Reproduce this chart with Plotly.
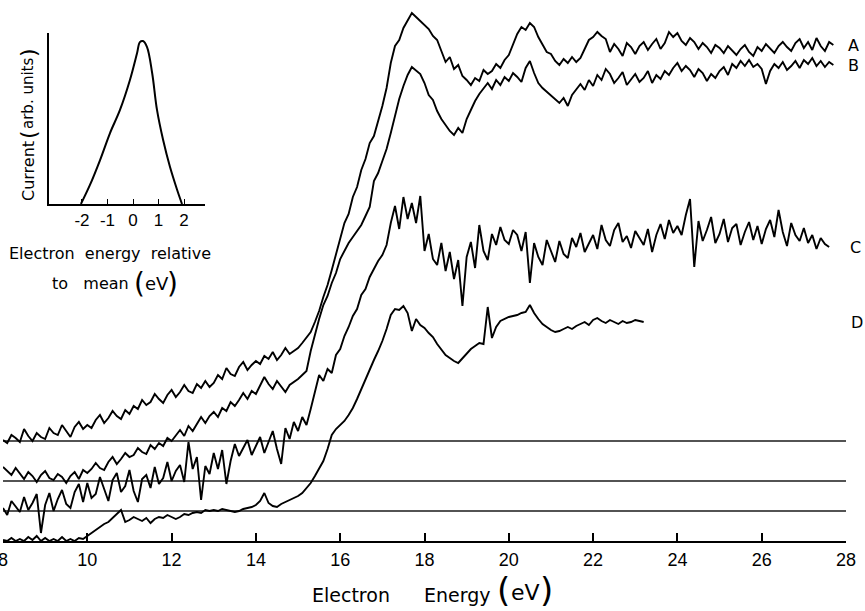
import plotly.graph_objects as go

# ---------------- data ----------------
energy_eV = [
    8.0, 8.1, 8.2, 8.3, 8.4, 8.5, 8.6, 8.7, 8.8, 8.9,
    9.0, 9.1, 9.2, 9.3, 9.4, 9.5, 9.6, 9.7, 9.8, 9.9,
    10.0, 10.1, 10.2, 10.3, 10.4, 10.5, 10.6, 10.7, 10.8, 10.9,
    11.0, 11.1, 11.2, 11.3, 11.4, 11.5, 11.6, 11.7, 11.8, 11.9,
    12.0, 12.1, 12.2, 12.3, 12.4, 12.5, 12.6, 12.7, 12.8, 12.9,
    13.0, 13.1, 13.2, 13.3, 13.4, 13.5, 13.6, 13.7, 13.8, 13.9,
    14.0, 14.1, 14.2, 14.3, 14.4, 14.5, 14.6, 14.7, 14.8, 14.9,
    15.0, 15.1, 15.2, 15.3, 15.4, 15.5, 15.6, 15.7, 15.8, 15.9,
    16.0, 16.1, 16.2, 16.3, 16.4, 16.5, 16.6, 16.7, 16.8, 16.9,
    17.0, 17.1, 17.2, 17.3, 17.4, 17.5, 17.6, 17.7, 17.8, 17.9,
    18.0, 18.1, 18.2, 18.3, 18.4, 18.5, 18.6, 18.7, 18.8, 18.9,
    19.0, 19.1, 19.2, 19.3, 19.4, 19.5, 19.6, 19.7, 19.8, 19.9,
    20.0, 20.1, 20.2, 20.3, 20.4, 20.5, 20.6, 20.7, 20.8, 20.9,
    21.0, 21.1, 21.2, 21.3, 21.4, 21.5, 21.6, 21.7, 21.8, 21.9,
    22.0, 22.1, 22.2, 22.3, 22.4, 22.5, 22.6, 22.7, 22.8, 22.9,
    23.0, 23.1, 23.2, 23.3, 23.4, 23.5, 23.6, 23.7, 23.8, 23.9,
    24.0, 24.1, 24.2, 24.3, 24.4, 24.5, 24.6, 24.7, 24.8, 24.9,
    25.0, 25.1, 25.2, 25.3, 25.4, 25.5, 25.6, 25.7, 25.8, 25.9,
    26.0, 26.1, 26.2, 26.3, 26.4, 26.5, 26.6, 26.7, 26.8, 26.9,
    27.0, 27.1, 27.2, 27.3, 27.4, 27.5, 27.6, 27.7,
]

curve_A = [
    101, 98, 106, 103, 99, 112, 105, 100, 108, 104,
    102, 113, 108, 106, 116, 110, 104, 114, 119, 112,
    116, 113, 121, 126, 118, 123, 130, 125, 122, 131,
    127, 135, 132, 141, 136, 139, 147, 142, 138, 146,
    151, 144, 149, 156, 150, 148, 157, 153, 160, 154,
    158, 166, 162, 173, 167, 165, 174, 179, 171, 176,
    180, 177, 185, 182, 189, 181, 186, 193, 187, 190,
    193, 198, 203, 209, 219, 230, 244, 256, 271, 286,
    302, 318, 327, 344, 354, 371, 382, 398, 405, 420,
    435, 453, 478, 495, 501, 513, 521, 528, 524, 520,
    517, 512, 505, 501, 490, 479, 484, 472, 476, 465,
    461, 456, 463, 460, 471, 467, 470, 477, 473, 481,
    486, 497, 507, 514, 511, 518, 514, 504, 497, 489,
    487, 480, 476, 482, 478, 484, 479, 483, 492, 501,
    504, 509, 505, 502, 489, 497, 492, 485, 498, 494,
    487, 495, 499, 491, 497, 502, 492, 498, 509, 504,
    508, 500, 496, 503, 499, 492, 498, 494, 488, 496,
    493, 488, 495, 490, 486, 492, 496, 489, 485, 494,
    490, 497, 493, 488, 495, 499, 494, 490, 498, 502,
    493, 499, 491, 503, 495, 490, 499, 496,
]

curve_B = [
    74, 70, 66, 73, 67, 62, 69, 65, 59, 66,
    70, 63, 61, 67, 64, 58, 65, 69, 62, 71,
    68, 72, 78, 73, 71, 79, 84, 77, 82, 88,
    84, 86, 93, 89, 87, 96, 92, 98, 95, 103,
    100, 106, 111, 105, 115, 110, 117, 124, 118, 125,
    129, 124, 133, 130, 139, 135, 141, 148, 142, 150,
    147, 155, 164, 157, 152, 160, 154, 149, 156, 159,
    162, 166, 170, 190, 207, 222, 236, 245, 258, 268,
    282, 290, 298, 304, 310, 316, 325, 334, 360, 368,
    380, 392, 408, 425, 442, 455, 466, 474, 470, 467,
    458, 446, 441, 430, 422, 416, 410, 406, 413, 408,
    422, 431, 440, 447, 452, 458, 452, 461, 456, 464,
    460, 468, 464, 459, 473, 480, 468, 458, 453, 449,
    445, 441, 438, 443, 435, 446, 452, 457, 451, 461,
    455, 466, 461, 472, 467, 458, 463, 469, 456, 462,
    467, 459, 463, 470, 458, 466, 462, 470, 466, 473,
    478, 470, 475, 471, 464, 472, 468, 460, 467, 463,
    470, 474, 466, 477, 473, 480, 475, 481, 474, 477,
    472, 457, 470, 477, 473, 479, 471, 475, 480, 473,
    481, 477, 483, 475, 480, 474, 479, 476,
]

curve_C = [
    33, 26, 40, 35, 29, 44, 31, 38, 47, 8,
    36, 48, 30, 42, 51, 37, 33, 49, 57, 39,
    58, 43, 47, 64, 52, 40, 61, 68, 49, 55,
    71, 50, 39, 62, 66, 53, 74, 57, 63, 79,
    60, 70, 76, 59, 99, 72, 84, 41, 75, 67,
    88, 72, 91, 57, 80, 97, 85, 93, 101, 86,
    95, 104, 88, 99, 110, 92, 77, 113, 102, 119,
    110, 124, 116, 132, 150, 166, 160, 172, 168, 186,
    192, 205, 214, 225, 232, 246, 252, 264, 272, 280,
    286, 296, 318, 335, 312, 344, 322, 338, 318, 345,
    290, 307, 282, 276, 298, 270, 289, 262, 281, 235,
    284, 299, 273, 316, 290, 281, 307, 296, 314, 301,
    297, 311, 306, 290, 309, 258, 298, 284, 276, 301,
    290, 279, 300, 287, 283, 303, 294, 308, 289, 297,
    306, 292, 316, 301, 295, 311, 318, 299, 305, 293,
    310, 303, 296, 312, 289, 306, 317, 302, 321, 308,
    315, 306, 326, 342, 274, 320, 300, 311, 324, 298,
    307, 322, 299, 313, 317, 296, 309, 319, 301, 315,
    297, 312, 321, 304, 331, 309, 295, 318, 306, 300,
    313, 298, 306, 292, 303, 297, 294,
]

curve_D = [
    1, 0, 3, 0, 2, 0, 4, 1, 5, 0,
    3, 0, 2, 0, 4, 0, 2, 0, 3, 2,
    5, 8, 11, 14, 17, 19, 23, 27, 31, 19,
    21, 24, 22, 20, 23, 18, 22, 24, 23, 26,
    24, 22, 24, 27, 26, 28, 29, 28, 31, 30,
    31, 30, 32, 31, 30, 29, 30, 32, 33, 34,
    36, 40, 48, 38, 35, 34, 37, 39, 41, 43,
    45, 48, 53, 58, 65, 72, 80, 92, 106, 112,
    116, 120, 126, 133, 142, 152, 162, 171, 181, 190,
    200, 212, 226, 232, 231, 235, 228, 210, 222, 216,
    213, 208, 204, 197, 191, 186, 183, 180, 178, 183,
    188, 192, 195, 198, 197, 234, 203, 214, 220, 222,
    224, 225, 226, 228, 229, 236, 228, 222, 217, 214,
    211, 209, 210, 212, 214, 212, 215, 217, 219, 216,
    221, 223, 220, 218, 221, 219, 217, 220, 218, 219,
    221, 220, 219,
]

curve_names = ["A", "B", "C", "D"]
baseline_levels = [100, 60, 30]          # zero lines of curves A, B, C (D uses the axis)
x_tick_values = [8, 10, 12, 14, 16, 18, 20, 22, 24, 26, 28]

inset_energy = [-2.04, -1.69, -1.29, -0.9, -0.51, -0.12, 0.16, 0.27, 0.39,
                0.55, 0.75, 0.94, 1.18, 1.45, 1.73, 1.92]
inset_current = [0, 0.11, 0.257, 0.415, 0.55, 0.725, 0.883, 0.947, 0.953,
                 0.918, 0.766, 0.55, 0.374, 0.216, 0.082, 0]
inset_tick_values = [-2, -1, 0, 1, 2]
inset_tick_labels = ["-2", "-1", "0", "1", "2"]

# ---------------- figure ----------------
FONT = "Liberation Sans"
LETTER = "DejaVu Sans"
W, H = 865, 611
L, R, T, B = 3, 19, 0, 70
PW, PH = W - L - R, H - T - B


def px(xp):
    return (xp - L) / PW


def py(yp):
    return (H - B - yp) / PH


fig = go.Figure()

for lvl in baseline_levels:
    fig.add_trace(go.Scatter(x=[x_tick_values[0], x_tick_values[-1]], y=[lvl, lvl],
                             mode="lines", line=dict(color="#1a1a1a", width=1.3),
                             hoverinfo="skip", showlegend=False))

label_x = [853, 853, 855, 857]
for name, vals, lx in zip(curve_names, [curve_A, curve_B, curve_C, curve_D], label_x):
    fig.add_trace(go.Scatter(x=energy_eV[:len(vals)], y=vals, mode="lines", name=name,
                             line=dict(color="black", width=1.9), showlegend=False))
    fig.add_annotation(x=px(lx), y=vals[-1], xref="paper", yref="y", text=name,
                       showarrow=False, xanchor="center", yanchor="middle",
                       font=dict(family=LETTER, size=16, color="black"))

fig.add_trace(go.Scatter(x=inset_energy, y=inset_current, xaxis="x2", yaxis="y2",
                         mode="lines", line=dict(color="black", width=2, shape="spline"),
                         showlegend=False))


def note(x, y, text, size, angle=0):
    fig.add_annotation(x=px(x), y=py(y), xref="paper", yref="paper", text=text,
                       showarrow=False, xanchor="center", yanchor="middle",
                       textangle=angle, font=dict(family=LETTER, size=size, color="black"))


# main axis title
note(351, 595, "Electron", 19)
note(457, 595, "Energy", 19)
note(503, 590, "(", 34)
note(525, 592, "eV", 22)
note(546, 590, ")", 34)

# inset y label (rotated)
note(28, 171, "Current", 16, -90)
note(28, 135, "(", 22, -90)
note(28, 94, "arb. units", 15, -90)
note(28, 53, ")", 22, -90)

# inset x label
note(110, 254, "Electron&nbsp;&nbsp;energy&nbsp;&nbsp;relative", 16)
note(90, 283, "to&nbsp;&nbsp;&nbsp;mean", 16)
note(139, 283, "(", 28)
note(157, 283, "eV", 18)
note(172, 283, ")", 28)

fig.update_layout(
    width=W, height=H,
    margin=dict(l=L, r=R, t=T, b=B, autoexpand=False),
    paper_bgcolor="white", plot_bgcolor="white",
    showlegend=False,
    font=dict(family=FONT, color="black"),
    xaxis=dict(range=[8, 28], tickvals=x_tick_values, ticks="inside", ticklen=8,
               tickwidth=1.5, tickcolor="black", showline=True, linecolor="black",
               linewidth=1.5, showgrid=False, zeroline=False, automargin=False,
               tickfont=dict(family=FONT, size=18), ticklabeloverflow="allow",
               ticklabelstandoff=2),
    yaxis=dict(range=[0, PH], visible=False, automargin=False),
    xaxis2=dict(domain=[px(49), px(205)], anchor="y2",
                range=[-3.29, 2.82], tickvals=inset_tick_values, ticktext=inset_tick_labels,
                ticks="inside", ticklen=5, tickwidth=1.3, tickcolor="black",
                showline=True, linecolor="black", linewidth=1.5, showgrid=False,
                zeroline=False, automargin=False, tickfont=dict(family=FONT, size=17)),
    yaxis2=dict(domain=[py(204), py(33)], anchor="x2",
                range=[0, 1], showline=True, linecolor="black", linewidth=1.5,
                showticklabels=False, ticks="", showgrid=False, zeroline=False,
                automargin=False),
)

fig.write_html("out.html", config={"displayModeBar": False},
               post_script="document.body.style.margin='0';document.body.style.overflow='hidden';")
